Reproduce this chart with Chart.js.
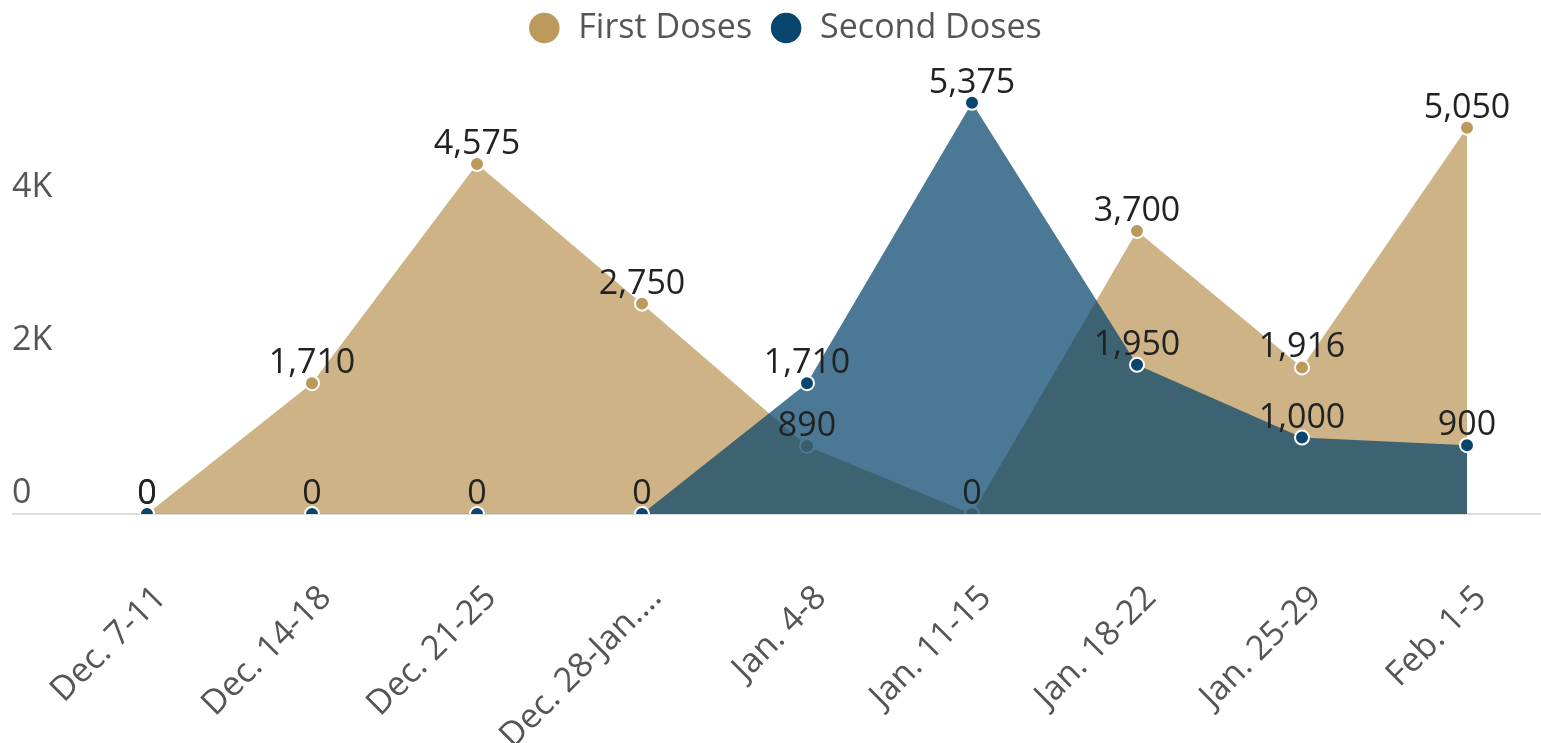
<!DOCTYPE html>
<html lang="en">
<head>
<meta charset="UTF-8" />
<title>First and Second Doses</title>
<script src="https://cdn.jsdelivr.net/npm/chart.js"></script>
<style>
  body { margin: 0; background: #fff; }
  canvas { display: block; }
</style>
</head>
<body>
<canvas id="dosesChart" width="1541" height="743"></canvas>
<script>
const weeks = ['Dec. 7-11', 'Dec. 14-18', 'Dec. 21-25', 'Dec. 28-Jan.…', 'Jan. 4-8', 'Jan. 11-15', 'Jan. 18-22', 'Jan. 25-29', 'Feb. 1-5'];
const firstDoses = [0, 1710, 4575, 2750, 890, 0, 3700, 1916, 5050];
const secondDoses = [0, 0, 0, 0, 1710, 5375, 1950, 1000, 900];
const yTicks = [0, 2000, 4000];
const yTickLabels = ['0', '2K', '4K'];

const FONT = "'Open Sans', sans-serif";

// light line along zero, runs the full width like the original
const zeroLine = {
  id: 'zeroLine',
  beforeDatasetsDraw(chart) {
    const ctx = chart.ctx;
    const y = chart.scales.y.getPixelForValue(0);
    ctx.save();
    ctx.strokeStyle = '#dcdcdc';
    ctx.lineWidth = 2;
    ctx.beginPath();
    ctx.moveTo(12, y);
    ctx.lineTo(chart.width, y);
    ctx.stroke();
    ctx.restore();
  }
};

// value above every point
const valueLabels = {
  id: 'valueLabels',
  afterDatasetsDraw(chart) {
    const ctx = chart.ctx;
    ctx.save();
    ctx.font = '34px ' + FONT;
    ctx.fillStyle = '#222';
    ctx.textAlign = 'center';
    ctx.textBaseline = 'alphabetic';
    chart.data.datasets.forEach((ds, i) => {
      chart.getDatasetMeta(i).data.forEach((pt, j) => {
        ctx.fillText(ds.data[j].toLocaleString('en-US'), pt.x, pt.y - 10);
      });
    });
    ctx.restore();
  }
};

// legend sits a bit right of the canvas centre in the original
const legendShift = {
  id: 'legendShift',
  afterLayout(chart) {
    chart.legend.left += 45;
    chart.legend.right += 45;
  }
};

const ctx = document.getElementById('dosesChart').getContext('2d');

new Chart(ctx, {
  type: 'line',
  data: {
    labels: weeks,
    datasets: [{
      label: 'First Doses',
      data: firstDoses,
      fill: 'origin',
      backgroundColor: 'rgba(188,154,92,0.75)',
      borderColor: 'transparent',
      borderWidth: 0,
      pointBackgroundColor: '#bc9a5c',
      pointBorderColor: '#fff',
      pointBorderWidth: 2,
      pointRadius: 7,
      order: 2
    }, {
      label: 'Second Doses',
      data: secondDoses,
      fill: 'origin',
      backgroundColor: 'rgba(8,70,110,0.73)',
      borderColor: 'transparent',
      borderWidth: 0,
      pointBackgroundColor: '#08466e',
      pointBorderColor: '#fff',
      pointBorderWidth: 2,
      pointRadius: 7,
      order: 1
    }]
  },
  options: {
    responsive: false,
    animation: false,
    devicePixelRatio: 1,
    layout: { padding: { left: 12, right: 74, top: -6, bottom: 0 } },
    plugins: {
      legend: {
        position: 'top',
        labels: {
          usePointStyle: true,
          pointStyle: 'circle',
          boxWidth: 38,
          boxHeight: 23,
          padding: 17,
          color: '#555',
          font: { family: FONT, size: 34 },
          sort: (a, b) => a.datasetIndex - b.datasetIndex
        }
      },
      tooltip: { enabled: false }
    },
    scales: {
      x: {
        grid: { display: false },
        border: { display: false },
        ticks: {
          minRotation: 45,
          maxRotation: 45,
          color: '#555',
          font: { family: FONT, size: 34 },
          padding: 56,
          labelOffset: 14
        },
        afterFit(scale) {
          scale.height = 229;
          scale.paddingLeft = 0;
          scale.paddingRight = 0;
        }
      },
      y: {
        min: 0,
        max: 6000,
        grid: { display: false },
        border: { display: false },
        afterBuildTicks(scale) { scale.ticks = yTicks.map(v => ({ value: v })); },
        ticks: {
          callback: v => yTickLabels[yTicks.indexOf(v)],
          crossAlign: 'far',
          labelOffset: -21,
          color: '#555',
          font: { family: FONT, size: 34 }
        },
        afterFit(scale) { scale.width = 135; }
      }
    }
  },
  plugins: [zeroLine, valueLabels, legendShift]
});
</script>
</body>
</html>
